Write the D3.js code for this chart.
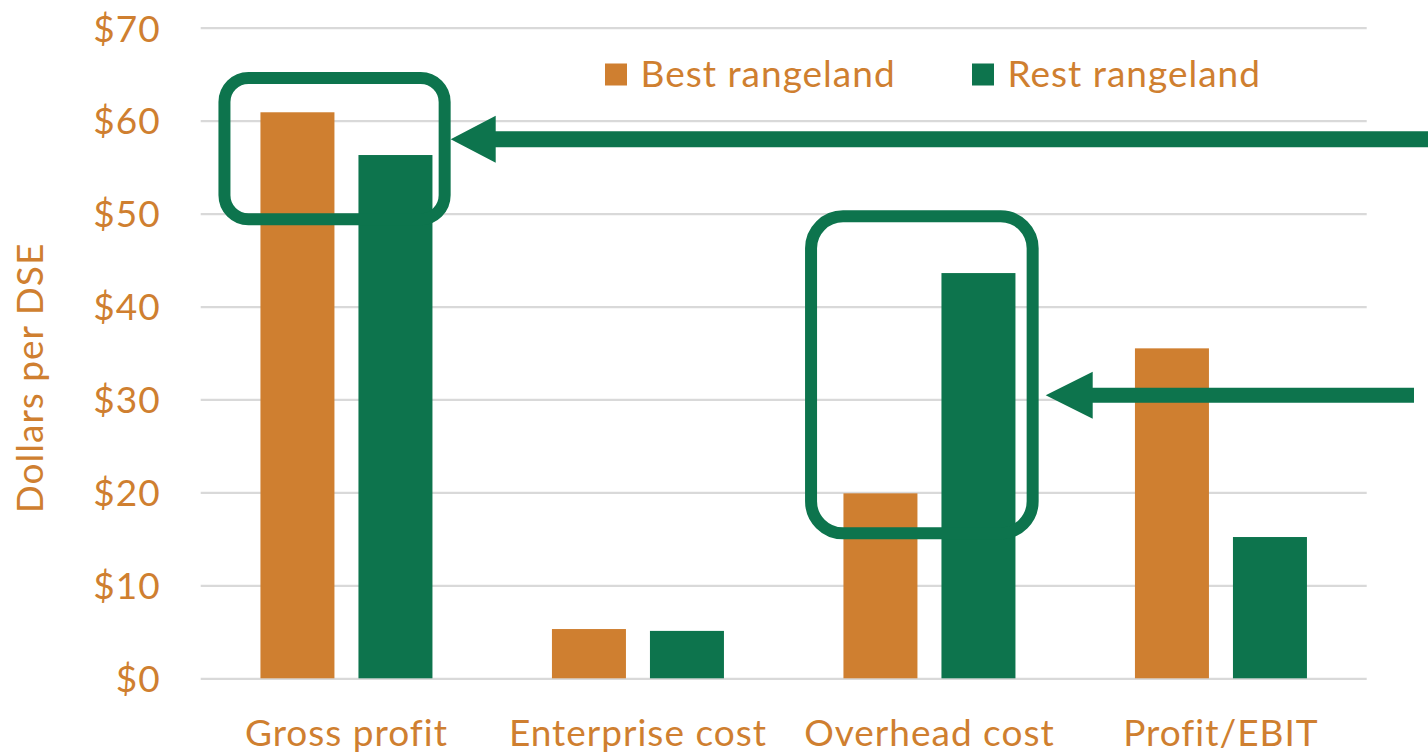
<!DOCTYPE html>
<html>
<head>
<meta charset="utf-8">
<script src="https://cdn.jsdelivr.net/npm/d3@7"></script>
<style>
  html, body { margin: 0; padding: 0; background: #ffffff; }
  svg { display: block; }
  text { font-family: Lato, "Open Sans", sans-serif; fill: #CF7F30; letter-spacing: 1px; }
</style>
</head>
<body>
<svg id="chart" width="1428" height="753"></svg>
<script>
// ---- data ----
const categories = ["Gross profit", "Enterprise cost", "Overhead cost", "Profit/EBIT"];
const seriesNames = ["Best rangeland", "Rest rangeland"];
const bestValues = [60.9, 5.3, 19.9, 35.5];
const restValues = [56.3, 5.1, 43.6, 15.2];
const yTicks = [0, 10, 20, 30, 40, 50, 60, 70];
const yTitle = "Dollars per DSE";

(function () {
const colors = { "Best rangeland": "#CF7F30", "Rest rangeland": "#0D744D" };
const green = "#0D744D";
const fs = 37;

const svg = d3.select("#chart");
const plotLeft = 200.7, plotRight = 1366.7, plotTop = 27.7, plotBottom = 678.3;

const x0 = d3.scaleBand().domain(categories).range([plotLeft, plotRight]).padding(0);
const groupW = 172;
const x1 = d3.scaleBand().domain(seriesNames)
  .range([(x0.bandwidth() - groupW) / 2, (x0.bandwidth() + groupW) / 2])
  .paddingInner(0.245).paddingOuter(0);
const y = d3.scaleLinear().domain([0, 70]).range([plotBottom, plotTop]);

// gridlines + y tick labels
const yAxis = d3.axisLeft(y).tickValues(yTicks).tickFormat(d => "$" + d)
  .tickSize(-(plotRight - plotLeft)).tickPadding(40);
const gy = svg.append("g").attr("transform", `translate(${plotLeft},0)`).call(yAxis);
gy.select(".domain").remove();
gy.selectAll(".tick line").attr("stroke", "#D9D9D9").attr("stroke-width", 2.2);
gy.selectAll(".tick text")
  .attr("font-size", fs).attr("fill", "#CF7F30")
  .style("font-family", "Lato, 'Open Sans', sans-serif")
  .attr("dy", "0.36em");

// y title
svg.append("text")
  .attr("transform", `translate(43,378) rotate(-90)`)
  .attr("text-anchor", "middle")
  .attr("font-size", fs)
  .text(yTitle);

// bars
const rows = categories.map((c, i) => ({ cat: c, vals: [
  { s: seriesNames[0], v: bestValues[i] },
  { s: seriesNames[1], v: restValues[i] }
]}));

const groups = svg.append("g").selectAll("g").data(rows).join("g")
  .attr("transform", d => `translate(${x0(d.cat)},0)`);
groups.selectAll("rect").data(d => d.vals).join("rect")
  .attr("x", d => x1(d.s))
  .attr("width", x1.bandwidth())
  .attr("y", d => y(d.v))
  .attr("height", d => y(0) - y(d.v))
  .attr("fill", d => colors[d.s]);

// x labels
svg.append("g").selectAll("text").data(categories).join("text")
  .attr("x", d => x0(d) + x0.bandwidth() / 2)
  .attr("y", 746)
  .attr("text-anchor", "middle")
  .attr("font-size", fs)
  .text(d => d);

// legend
const legendPos = [{ s: seriesNames[0], x: 605 }, { s: seriesNames[1], x: 972 }];
const lg = svg.append("g").selectAll("g").data(legendPos).join("g")
  .attr("transform", d => `translate(${d.x},0)`);
lg.append("rect").attr("x", 0).attr("y", 63.5).attr("width", 22).attr("height", 22)
  .attr("fill", d => colors[d.s]);
lg.append("text").attr("x", 35.5).attr("y", 86.7).attr("font-size", fs).text(d => d.s);

// annotations: rounded boxes and arrows
const ann = svg.append("g");
function box(cat, dx0, dx1, v0, v1, r) {
  const cx = x0(cat) + x0.bandwidth() / 2;
  ann.append("rect")
    .attr("x", cx + dx0).attr("y", y(v0))
    .attr("width", dx1 - dx0).attr("height", y(v1) - y(v0))
    .attr("rx", r).attr("ry", r)
    .attr("fill", "none").attr("stroke", green).attr("stroke-width", 12);
}
function arrow(tipX, yc, endX, headLen, headH, shaftW) {
  const p = d3.path();
  p.moveTo(tipX, yc);
  p.lineTo(tipX + headLen, yc - headH / 2);
  p.lineTo(tipX + headLen, yc - shaftW / 2);
  p.lineTo(endX, yc - shaftW / 2);
  p.lineTo(endX, yc + shaftW / 2);
  p.lineTo(tipX + headLen, yc + shaftW / 2);
  p.lineTo(tipX + headLen, yc + headH / 2);
  p.closePath();
  ann.append("path").attr("d", p.toString()).attr("fill", green);
}
box("Gross profit", -122, 98.2, 64.6, 49.4, 24);
box("Overhead cost", -118.4, 103.2, 49.7, 15.6, 32);
arrow(450.7, 139.2, 1428, 45, 47, 16);
arrow(1045.7, 395.2, 1414, 47, 47, 15);
})();
</script>
</body>
</html>
